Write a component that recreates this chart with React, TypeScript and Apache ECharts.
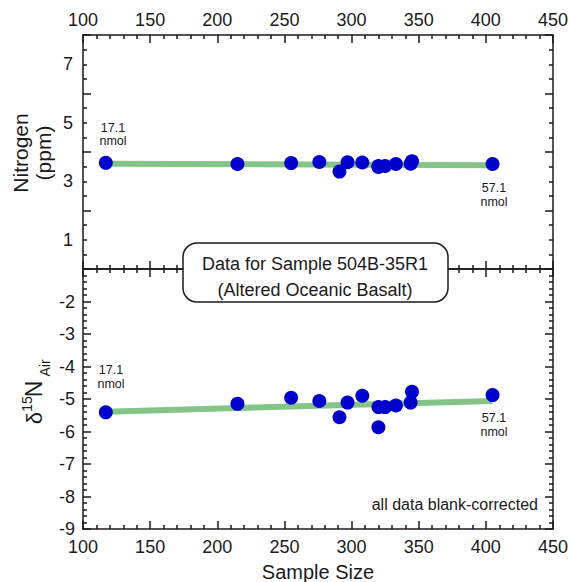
import React, { useEffect, useRef } from "react";
import * as echarts from "echarts";

// ---- data ----
const sampleSize = [117, 215, 255, 276, 291, 297, 308, 320, 320, 325, 333, 344, 345, 405];
const nitrogenPpm = [3.63, 3.59, 3.62, 3.66, 3.33, 3.65, 3.64, 3.52, 3.49, 3.52, 3.59, 3.60, 3.68, 3.59];
const delta15N = [-5.41, -5.15, -4.96, -5.06, -5.56, -5.11, -4.90, -5.25, -5.87, -5.25, -5.20, -5.11, -4.78, -4.88];
const fitX = [117, 405];
const fitNitrogen = [3.60, 3.55];
const fitDelta = [-5.39, -5.06];
const xTicks = [100, 150, 200, 250, 300, 350, 400, 450];
const nitrogenTickLabels = [1, 3, 5, 7];
const deltaTickLabels = [-2, -3, -4, -5, -6, -7, -8, -9];
const amountLabels = ["17.1", "57.1"];

const FONT = "'Liberation Sans', Arial, Helvetica, sans-serif";
const INK = "#1a1a1a";
const BLUE = "#0000cc";
const GREEN = "#84c587";

export default function App() {
  const ref = useRef<HTMLDivElement>(null);

  useEffect(() => {
    if (!ref.current) return;
    const chart = echarts.init(ref.current, null, { renderer: "svg" });

    const lineStyle = { color: INK, width: 1.5 };
    const tickStyle = { color: INK, width: 1.5 };
    const labelBase = { color: INK, fontSize: 18, fontFamily: FONT };

    const xBase = (grid: number, position: string, showLabels: boolean, margin: number) => ({
      type: "value",
      gridIndex: grid,
      position,
      min: xTicks[0],
      max: xTicks[xTicks.length - 1],
      interval: 50,
      axisLine: { show: true, onZero: false, lineStyle },
      axisTick: { show: true, inside: true, length: 8, lineStyle: tickStyle },
      minorTick: { show: true, splitNumber: 5, length: 4, lineStyle: tickStyle },
      axisLabel: {
        show: showLabels,
        ...labelBase,
        margin,
        showMinLabel: true,
        showMaxLabel: true,
        formatter: (v: number) => (xTicks.includes(v) ? String(v) : ""),
      },
      splitLine: { show: false },
      minorSplitLine: { show: false },
    });

    const pair = (xs: number[], ys: number[]) => xs.map((x, i) => [x, ys[i]]);

    const amountText = (label: string, cx: number, cy: number) => [
      {
        type: "text",
        z: 50,
        x: cx,
        y: cy - 6.75,
        style: { text: label, fontSize: 12.5, fontFamily: FONT, fill: INK, align: "center", verticalAlign: "middle" },
      },
      {
        type: "text",
        z: 50,
        x: cx,
        y: cy + 6.75,
        style: { text: "nmol", fontSize: 12.5, fontFamily: FONT, fill: INK, align: "center", verticalAlign: "middle" },
      },
    ];

    const option: any = {
      animation: false,
      backgroundColor: "#ffffff",
      grid: [
        { left: 83, top: 35, width: 470, height: 234 },
        { left: 83, top: 269, width: 470, height: 260 },
      ],
      xAxis: [
        xBase(0, "top", true, 6),
        xBase(0, "bottom", false, 6),
        xBase(1, "top", false, 6),
        xBase(1, "bottom", true, 9),
      ],
      yAxis: [
        {
          type: "value",
          gridIndex: 0,
          position: "left",
          min: 0,
          max: 8,
          interval: 1,
          axisLine: { show: true, onZero: false, lineStyle },
          axisTick: { show: false },
          minorTick: { show: false },
          axisLabel: {
            ...labelBase,
            margin: 10,
            formatter: (v: number) => (nitrogenTickLabels.includes(v) ? String(v) : ""),
          },
          splitLine: { show: false },
        },
        {
          type: "value",
          gridIndex: 0,
          position: "left",
          min: 0,
          max: 8,
          interval: 2,
          axisLine: { show: false },
          axisTick: { show: true, inside: true, length: 8, lineStyle: tickStyle },
          minorTick: { show: true, splitNumber: 4, length: 4, lineStyle: tickStyle },
          axisLabel: { show: false },
          splitLine: { show: false },
        },
        {
          type: "value",
          gridIndex: 0,
          position: "right",
          min: 0,
          max: 8,
          interval: 2,
          axisLine: { show: true, onZero: false, lineStyle },
          axisTick: { show: true, inside: true, length: 8, lineStyle: tickStyle },
          minorTick: { show: true, splitNumber: 4, length: 4, lineStyle: tickStyle },
          axisLabel: { show: false },
          splitLine: { show: false },
        },
        {
          type: "value",
          gridIndex: 1,
          position: "left",
          min: -9,
          max: -1,
          interval: 1,
          axisLine: { show: true, onZero: false, lineStyle },
          axisTick: { show: true, inside: true, length: 8, lineStyle: tickStyle },
          minorTick: { show: true, splitNumber: 5, length: 4, lineStyle: tickStyle },
          axisLabel: {
            ...labelBase,
            margin: 8,
            showMinLabel: true,
            formatter: (v: number) => (deltaTickLabels.includes(v) ? String(v) : ""),
          },
          splitLine: { show: false },
        },
        {
          type: "value",
          gridIndex: 1,
          position: "right",
          min: -9,
          max: -1,
          interval: 1,
          axisLine: { show: true, onZero: false, lineStyle },
          axisTick: { show: true, inside: true, length: 8, lineStyle: tickStyle },
          minorTick: { show: true, splitNumber: 5, length: 4, lineStyle: tickStyle },
          axisLabel: { show: false },
          splitLine: { show: false },
        },
      ],
      series: [
        {
          type: "line",
          xAxisIndex: 0,
          yAxisIndex: 0,
          data: pair(fitX, fitNitrogen),
          symbol: "none",
          lineStyle: { color: GREEN, width: 6 },
          z: 2,
          silent: true,
        },
        {
          type: "scatter",
          xAxisIndex: 0,
          yAxisIndex: 0,
          data: pair(sampleSize, nitrogenPpm),
          symbolSize: 14,
          itemStyle: { color: BLUE, opacity: 1 },
          z: 3,
        },
        {
          type: "line",
          xAxisIndex: 3,
          yAxisIndex: 3,
          data: pair(fitX, fitDelta),
          symbol: "none",
          lineStyle: { color: GREEN, width: 6 },
          z: 2,
          silent: true,
        },
        {
          type: "scatter",
          xAxisIndex: 3,
          yAxisIndex: 3,
          data: pair(sampleSize, delta15N),
          symbolSize: 14,
          itemStyle: { color: BLUE, opacity: 1 },
          z: 3,
        },
      ],
      graphic: [
        // annotation box
        {
          type: "rect",
          z: 100,
          shape: { x: 183, y: 243, width: 265, height: 59, r: 14 },
          style: { fill: "#ffffff", stroke: INK, lineWidth: 1.5 },
        },
        {
          type: "text",
          z: 101,
          x: 315,
          y: 264,
          style: {
            text: "Data for Sample 504B-35R1",
            fontSize: 18,
            fontFamily: FONT,
            fill: INK,
            align: "center",
            verticalAlign: "middle",
          },
        },
        {
          type: "text",
          z: 101,
          x: 315,
          y: 290,
          style: {
            text: "(Altered Oceanic Basalt)",
            fontSize: 18,
            fontFamily: FONT,
            fill: INK,
            align: "center",
            verticalAlign: "middle",
          },
        },
        // amount annotations
        ...amountText(amountLabels[0], 113, 134.5),
        ...amountText(amountLabels[1], 494, 195),
        ...amountText(amountLabels[0], 111, 377),
        ...amountText(amountLabels[1], 494, 425),
        {
          type: "text",
          z: 50,
          x: 538,
          y: 504,
          style: {
            text: "all data blank-corrected",
            fontSize: 16,
            fontFamily: FONT,
            fill: INK,
            align: "right",
            verticalAlign: "middle",
          },
        },
        // axis titles
        {
          type: "text",
          x: 20,
          y: 153,
          rotation: Math.PI / 2,
          style: { text: "Nitrogen", fontSize: 21, fontFamily: FONT, fill: INK, align: "center", verticalAlign: "middle" },
        },
        {
          type: "text",
          x: 43,
          y: 153,
          rotation: Math.PI / 2,
          style: { text: "(ppm)", fontSize: 21, fontFamily: FONT, fill: INK, align: "center", verticalAlign: "middle" },
        },
        {
          type: "text",
          x: 34,
          y: 418,
          rotation: Math.PI / 2,
          style: { text: "δ", fontSize: 22, fontFamily: FONT, fill: INK, align: "center", verticalAlign: "middle" },
        },
        {
          type: "text",
          x: 27,
          y: 404,
          rotation: Math.PI / 2,
          style: { text: "15", fontSize: 14, fontFamily: FONT, fill: INK, align: "center", verticalAlign: "middle" },
        },
        {
          type: "text",
          x: 34,
          y: 389,
          rotation: Math.PI / 2,
          style: { text: "N", fontSize: 23, fontFamily: FONT, fill: INK, align: "center", verticalAlign: "middle" },
        },
        {
          type: "text",
          x: 45,
          y: 368,
          rotation: Math.PI / 2,
          style: { text: "Air", fontSize: 14, fontFamily: FONT, fill: INK, align: "center", verticalAlign: "middle" },
        },
        {
          type: "text",
          x: 318,
          y: 572,
          style: { text: "Sample Size", fontSize: 20, fontFamily: FONT, fill: INK, align: "center", verticalAlign: "middle" },
        },
      ],
    };

    chart.setOption(option);
    return () => chart.dispose();
  }, []);

  return <div ref={ref} style={{ width: 571, height: 582, position: "absolute", left: 0, top: 0 }} />;
}
